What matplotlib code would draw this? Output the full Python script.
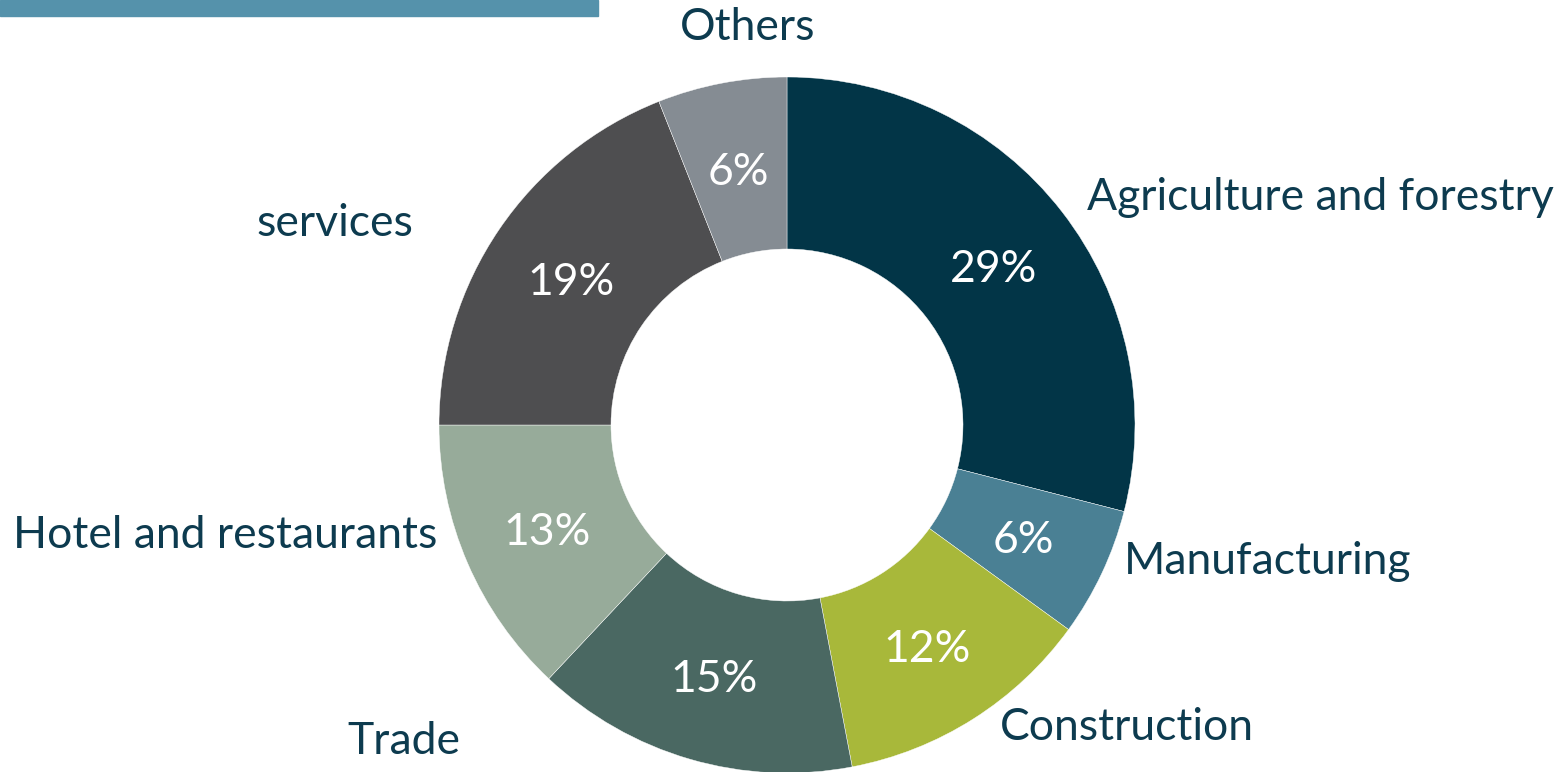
import matplotlib
matplotlib.use("Agg")
import matplotlib.pyplot as plt
from matplotlib.patches import Rectangle

categories = ["Agriculture and forestry", "Manufacturing", "Construction", "Trade",
              "Hotel and restaurants", "services", "Others"]
values = [29, 6, 12, 15, 13, 19, 6]
colors = ["#023547", "#4a8094", "#a8b83a", "#4a6862", "#97ab9a", "#4e4e50", "#858c93"]

# label anchor positions (pixel coords, y from top) and alignment
label_pos = [(1087, 197, "left"), (1124, 562, "left"), (1000, 728, "left"), (460, 742, "right"),
             (437, 536, "right"), (413, 223, "right"), (748, 28, "center")]

W, H = 1556, 772
fig = plt.figure(figsize=(W / 100, H / 100), dpi=100)
ax = fig.add_axes([0, 0, 1, 1])
ax.set_xlim(0, W)
ax.set_ylim(0, H)
ax.set_aspect("equal")
ax.axis("off")

font = "Lato"
fs = 32

wedges, texts, autotexts = ax.pie(
    values, colors=colors, startangle=90, counterclock=False,
    center=(787, H - 425), radius=348,
    autopct=lambda p: f"{p:.0f}%", pctdistance=0.75,
    wedgeprops=dict(width=172, linewidth=0.3, edgecolor="white"),
    textprops=dict(color="white", fontsize=fs, family=font),
    frame=True,
)
for t in autotexts:
    t.set_va("center_baseline")
ax.set_xlim(0, W)
ax.set_ylim(0, H)
ax.axis("off")

for name, (x, y, ha) in zip(categories, label_pos):
    ax.text(x, H - y, name, ha=ha, va="center", fontsize=fs, family=font, color="#0d3b4f")

fig.patches.append(Rectangle((0, 1 - 16 / H), 598 / W, 16 / H, transform=fig.transFigure,
                             color="#5592ab", zorder=5))

fig.savefig("out.png", dpi=100, facecolor="white")
